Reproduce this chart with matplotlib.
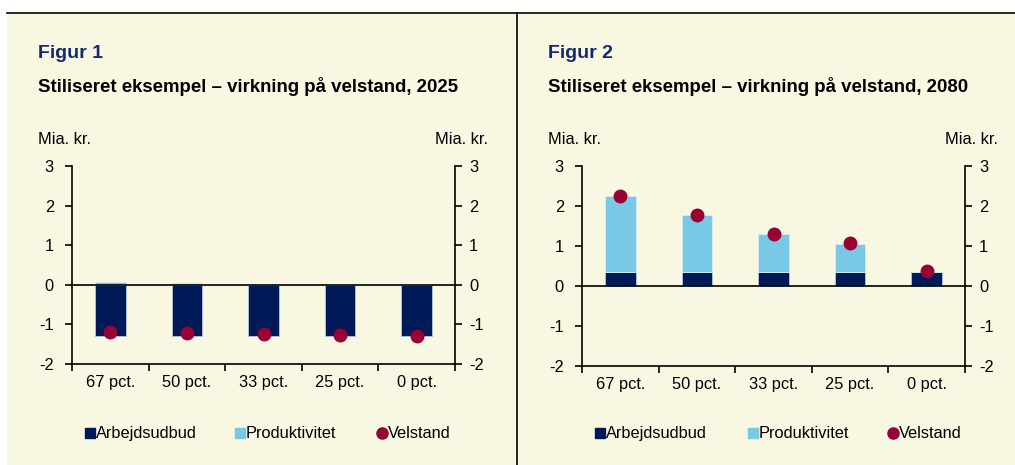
import matplotlib
matplotlib.use("Agg")
import matplotlib.pyplot as plt
from matplotlib.lines import Line2D
from matplotlib.patches import Rectangle
import numpy as np

plt.rcParams['font.family'] = ['Liberation Sans', 'DejaVu Sans']

categories = ["67 pct.", "50 pct.", "33 pct.", "25 pct.", "0 pct."]
arbejd_2025 = [-1.29, -1.29, -1.29, -1.29, -1.29]
produkt_2025 = [0.07, 0.045, 0.02, 0.02, 0.0]
velstand_2025 = [-1.20, -1.22, -1.24, -1.26, -1.29]

arbejd_2080 = [0.34, 0.34, 0.34, 0.34, 0.35]
produkt_2080 = [1.90, 1.43, 0.95, 0.72, 0.0]
velstand_2080 = [2.25, 1.78, 1.31, 1.08, 0.375]

titles = ["Figur 1", "Figur 2"]
subtitles = ["Stiliseret eksempel \u2013 virkning på velstand, 2025",
             "Stiliseret eksempel \u2013 virkning på velstand, 2080"]
yticks = [-2, -1, 0, 1, 2, 3]
legend_labels = ["Arbejdsudbud", "Produktivitet", "Velstand"]

NAVY = "#001A57"
LIGHT = "#78C8E6"
DOT = "#990033"
CREAM = "#F8F7E1"

W, H = 1015, 465
fig = plt.figure(figsize=(W / 100, H / 100), dpi=100, facecolor="white")

# background and frame
fig.patches.append(Rectangle((7 / W, 0), (W - 7) / W, (H - 13) / H, transform=fig.transFigure,
                             facecolor=CREAM, edgecolor="none", zorder=-10))
fig.lines.append(Line2D([7 / W, 1], [1 - 13 / H, 1 - 13 / H], transform=fig.transFigure,
                        color="black", lw=1.2, zorder=-5))
fig.lines.append(Line2D([517 / W, 517 / W], [0, 1 - 13 / H], transform=fig.transFigure,
                        color="black", lw=1.2, zorder=-5))


def fx(px):
    return px / W


def fy(py):
    return 1 - py / H


FS = 11.8

panels = [
    dict(x0=72, x1=455, top=166, bot=364, tx=38, arb=arbejd_2025, pro=produkt_2025,
         vel=velstand_2025, leg_x=[90, 240, 382]),
    dict(x0=582, x1=965, top=166, bot=366, tx=548, arb=arbejd_2080, pro=produkt_2080,
         vel=velstand_2080, leg_x=[600, 753, 893]),
]

for i, p in enumerate(panels):
    ax = fig.add_axes([fx(p["x0"]), fy(p["bot"]), (p["x1"] - p["x0"]) / W, (p["bot"] - p["top"]) / H])
    ax.set_facecolor("none")
    x = np.arange(len(categories))
    arb = np.array(p["arb"])
    pro = np.array(p["pro"])
    vel = np.array(p["vel"])
    bottoms = np.where(arb > 0, arb, 0)
    ax.bar(x, arb, width=0.4, color=NAVY, edgecolor="#B8C4D8", linewidth=0.6, zorder=2)
    ax.bar(x, pro, bottom=bottoms, width=0.4, color=LIGHT, edgecolor="#D8EEF6", linewidth=0.6, zorder=2)
    ax.axhline(0, color="black", lw=1.2, zorder=3)
    ax.plot(x, vel, linestyle="none", marker="o", markersize=9, color=DOT, zorder=4)
    ax.set_xlim(-0.5, len(categories) - 0.5)
    ax.set_ylim(-2, 3)
    ax.set_yticks(yticks)
    ax.set_yticklabels([str(t) for t in yticks])
    ax.set_xticks(np.arange(len(categories) + 1) - 0.5)
    ax.set_xticklabels([])
    ax.set_xticks(x, minor=True)
    ax.set_xticklabels(categories, minor=True)
    ax.tick_params(axis="x", which="minor", length=0, pad=8, labelsize=FS)
    ax.tick_params(axis="x", which="major", length=5, width=1.2, direction="out")
    ax.tick_params(axis="y", length=5, width=1.2, direction="out", labelsize=FS, pad=8)
    for s in ["left", "bottom"]:
        ax.spines[s].set_linewidth(1.2)
    ax.spines["top"].set_visible(False)
    ax.spines["right"].set_visible(False)
    ax2 = ax.twinx()
    ax2.set_ylim(-2, 3)
    ax2.set_yticks(yticks)
    ax2.set_yticklabels([str(t) for t in yticks])
    ax2.tick_params(axis="y", length=5, width=1.2, direction="out", labelsize=FS, pad=5)
    ax2.spines["right"].set_linewidth(1.2)
    ax2.spines["top"].set_visible(False)
    ax2.spines["left"].set_visible(False)
    ax2.spines["bottom"].set_visible(False)

    # titles
    fig.text(fx(p["tx"]), fy(54), titles[i], color="#132B6E", fontsize=14, fontweight="bold",
             va="center", ha="left")
    fig.text(fx(p["tx"]), fy(86), subtitles[i], color="black", fontsize=13.4, fontweight="bold",
             va="center", ha="left")
    fig.text(fx(p["tx"]), fy(140), "Mia. kr.", fontsize=FS, va="center", ha="left")
    fig.text(fx(p["x1"] + 33), fy(140), "Mia. kr.", fontsize=FS, va="center", ha="right")

    # legend
    ly = fy(433)
    lx = p["leg_x"]
    fig.lines.append(Line2D([fx(lx[0])], [ly], transform=fig.transFigure, marker="s",
                            markersize=7.5, color=NAVY, linestyle="none"))
    fig.lines.append(Line2D([fx(lx[1])], [ly], transform=fig.transFigure, marker="s",
                            markersize=7.5, color=LIGHT, linestyle="none"))
    fig.lines.append(Line2D([fx(lx[2])], [ly], transform=fig.transFigure, marker="o",
                            markersize=8, color=DOT, linestyle="none"))
    for k in range(3):
        fig.text(fx(lx[k] + 6), ly, legend_labels[k], fontsize=FS, va="center", ha="left")

fig.savefig("out.png", dpi=100, facecolor="white")
